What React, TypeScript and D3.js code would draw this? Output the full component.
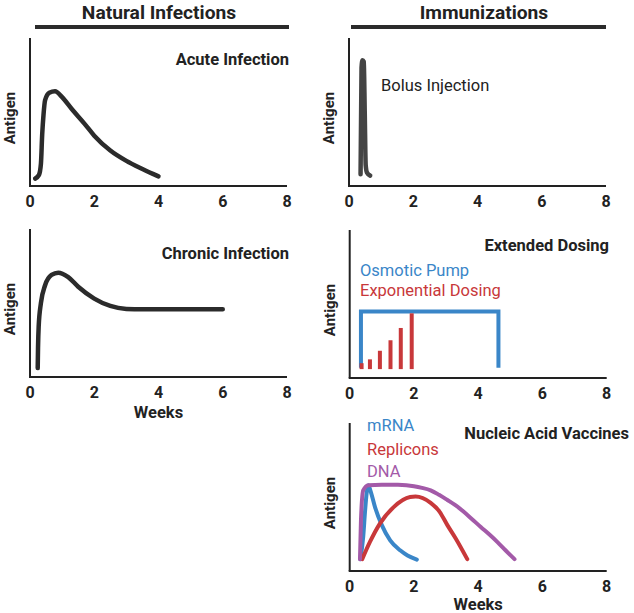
import React from 'react';
import * as d3 from 'd3';

// ---------- data (weeks, antigen level in arbitrary units 0-100) ----------
const weekTicks = [0, 2, 4, 6, 8];

const acuteWeeks = [0.16, 0.28, 0.34, 0.38, 0.42, 0.47, 0.6, 0.78, 1.0, 1.3, 1.7, 2.0, 2.5, 3.0, 3.5, 4.0];
const acuteAntigen = [5, 7.5, 15, 35, 48, 58, 63, 64, 60, 52, 42, 34, 24, 17, 11.5, 6.5];

const chronicWeeks = [0.24, 0.25, 0.27, 0.34, 0.47, 0.67, 0.88, 1.19, 1.5, 2.0, 2.5, 3.0, 3.5, 6.0];
const chronicAntigen = [6, 20, 34, 50, 62, 69, 70.5, 67.5, 61, 53, 48, 46, 45.7, 45.7];

const bolusWeeks = [0.36, 0.39, 0.42, 0.46, 0.49, 0.52, 0.56, 0.66];
const bolusAntigen = [8, 80, 85, 84, 50, 14, 9, 7];

const pumpWeeks = [0.35, 0.35, 4.63, 4.63];
const pumpAntigen = [7, 45, 45, 7];

const expDoseWeeks = [0.37, 0.63, 0.94, 1.27, 1.59, 1.93];
const expDoseAntigen = [10, 12.6, 18.4, 25.5, 33.8, 43.7];
const expDoseBase = 6;

const mrnaWeeks = [0.33, 0.42, 0.48, 0.53, 0.58, 0.65, 0.79, 1.0, 1.26, 1.57, 1.8, 2.09];
const mrnaAntigen = [8, 23, 41, 53, 58, 54, 43, 31, 20.7, 14, 10.5, 7.7];

const repliconWeeks = [0.39, 0.63, 0.94, 1.36, 1.88, 2.05, 2.52, 2.8, 3.04, 3.3, 3.66];
const repliconAntigen = [8, 19.6, 32, 43, 50, 50.3, 46, 40, 31, 22, 8];

const dnaWeeks = [0.32, 0.35, 0.42, 0.58, 1.0, 1.5, 2.0, 2.25, 2.52, 2.78, 3.04, 3.3, 3.55, 3.8, 4.08, 4.35, 4.6, 4.85, 5.13];
const dnaAntigen = [8, 34, 54.5, 58, 58.3, 58.2, 57.3, 56.2, 54.5, 51.5, 48, 44.3, 40, 35.2, 29.7, 24.6, 19.5, 14, 8];

// ---------- styles ----------
const DARK = '#2b2b2b';
const BLUE = '#3a86c8';
const RED = '#c8383a';
const PURPLE = '#a35aa8';
const FONT = 'Roboto, "Noto Sans", sans-serif';

const PW = 257;
const PH = 148;

type Series = { xs: number[]; ys: number[]; color: string; width: number; curve?: any };

function zip(xs: number[], ys: number[]): [number, number][] {
  return xs.map((x, i) => [x, ys[i]] as [number, number]);
}

function Panel(props: {
  left: number;
  bottom: number;
  series: Series[];
  bars?: { xs: number[]; ys: number[]; base: number; color: string };
  xLabel?: boolean;
  xLabelOffset?: number;
}) {
  const { left, bottom, series, bars } = props;
  const x = d3.scaleLinear().domain([0, 8]).range([left, left + PW]);
  const y = d3.scaleLinear().domain([0, 100]).range([bottom, bottom - PH]);
  return (
    <g>
      {series.map((s, i) => {
        const line = d3
          .line<[number, number]>()
          .x((d) => x(d[0]))
          .y((d) => y(d[1]))
          .curve(s.curve || d3.curveMonotoneX);
        return (
          <path
            key={i}
            d={line(zip(s.xs, s.ys)) || ''}
            fill="none"
            stroke={s.color}
            strokeWidth={s.width}
            strokeLinecap={s.curve ? 'butt' : 'round'}
            strokeLinejoin={s.curve ? 'miter' : 'round'}
          />
        );
      })}
      {bars &&
        bars.xs.map((w, i) => (
          <rect
            key={'b' + i}
            x={x(w) - 2}
            width={4}
            y={y(bars.ys[i])}
            height={y(bars.base) - y(bars.ys[i])}
            fill={bars.color}
          />
        ))}
      <line x1={left} x2={left} y1={bottom - PH} y2={bottom} stroke="#222" strokeWidth={2} />
      <line x1={left - 1} x2={left + PW} y1={bottom} y2={bottom} stroke="#222" strokeWidth={2} />
      {weekTicks.map((t) => (
        <text
          key={t}
          x={x(t)}
          y={bottom + 21}
          textAnchor="middle"
          fontFamily={FONT}
          fontWeight="bold"
          fontSize={16}
          fill="#222"
        >
          {t}
        </text>
      ))}
      <text
        transform={`translate(${left - 15},${bottom - 68}) rotate(-90)`}
        textAnchor="middle"
        fontFamily={FONT}
        fontWeight="bold"
        fontSize={15}
        fill="#222"
      >
        Antigen
      </text>
      {props.xLabel && (
        <text
          x={left + PW / 2}
          y={bottom + (props.xLabelOffset || 40)}
          textAnchor="middle"
          fontFamily={FONT}
          fontWeight="bold"
          fontSize={16.5}
          fill="#222"
        >
          Weeks
        </text>
      )}
    </g>
  );
}

function Title(p: { x: number; y: number; text: string; anchor?: string; bold?: boolean; color?: string; size?: number }) {
  return (
    <text
      x={p.x}
      y={p.y}
      textAnchor={p.anchor || 'end'}
      dominantBaseline="central"
      fontFamily={FONT}
      fontWeight={p.bold === false ? 'normal' : 'bold'}
      fontSize={p.size || 16.5}
      fill={p.color || '#222'}
    >
      {p.text}
    </text>
  );
}

export default function App() {
  return (
    <svg
      width={634}
      height={613}
      style={{ position: 'absolute', left: 0, top: 0, background: '#fff' }}
    >
      <rect width={634} height={613} fill="#fff" />
      {/* headers */}
      <Title x={159} y={12} text="Natural Infections" anchor="middle" size={19.2} />
      <rect x={35} y={25} width={254} height={4} fill={DARK} />
      <Title x={484} y={12} text="Immunizations" anchor="middle" size={19.2} />
      <rect x={351} y={25} width={255} height={4} fill={DARK} />

      {/* Acute */}
      <Panel left={30} bottom={186} series={[{ xs: acuteWeeks, ys: acuteAntigen, color: DARK, width: 4.5 }]} />
      <Title x={289} y={59} text="Acute Infection" />

      {/* Bolus */}
      <Panel left={349} bottom={186} series={[{ xs: bolusWeeks, ys: bolusAntigen, color: '#444', width: 4.5 }]} />
      <Title x={381} y={85} text="Bolus Injection" anchor="start" bold={false} />

      {/* Chronic */}
      <Panel left={30} bottom={377} xLabel xLabelOffset={41} series={[{ xs: chronicWeeks, ys: chronicAntigen, color: DARK, width: 4.5 }]} />
      <Title x={289} y={253} text="Chronic Infection" />

      {/* Extended dosing */}
      <Panel
        left={349.7}
        bottom={378}
        series={[{ xs: pumpWeeks, ys: pumpAntigen, color: BLUE, width: 4, curve: d3.curveLinear }]}
        bars={{ xs: expDoseWeeks, ys: expDoseAntigen, base: expDoseBase, color: RED }}
      />
      <Title x={609} y={245} text="Extended Dosing" />
      <Title x={360} y={270} text="Osmotic Pump" anchor="start" bold={false} color={BLUE} />
      <Title x={360} y={290} text="Exponential Dosing" anchor="start" bold={false} color={RED} />

      {/* Nucleic acid */}
      <Panel
        left={349.7}
        bottom={571}
        xLabel
        xLabelOffset={38.5}
        series={[
          { xs: mrnaWeeks, ys: mrnaAntigen, color: BLUE, width: 4 },
          { xs: repliconWeeks, ys: repliconAntigen, color: RED, width: 4 },
          { xs: dnaWeeks, ys: dnaAntigen, color: PURPLE, width: 4 },
        ]}
      />
      <Title x={629} y={433} text="Nucleic Acid Vaccines" />
      <Title x={367} y={425} text="mRNA" anchor="start" bold={false} color={BLUE} />
      <Title x={367} y={449} text="Replicons" anchor="start" bold={false} color={RED} />
      <Title x={367} y={471} text="DNA" anchor="start" bold={false} color={PURPLE} />
    </svg>
  );
}
